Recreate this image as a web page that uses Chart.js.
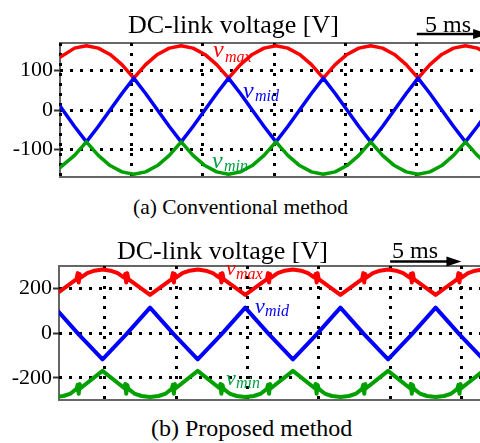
<!DOCTYPE html>
<html>
<head>
<meta charset="utf-8">
<script src="https://cdn.jsdelivr.net/npm/chart.js@4"></script>
<style>
html, body { margin: 0; padding: 0; background: #fff; overflow: hidden; }
body { width: 480px; height: 443px; position: relative; font-family: 'Liberation Serif', 'Times New Roman', serif; }
canvas { position: absolute; left: 0; }
.t { position: absolute; white-space: nowrap; line-height: 1; color: #000; }
.v { position: absolute; white-space: nowrap; line-height: 1; font-style: italic; }
</style>
</head>
<body>
<canvas id="chartA" width="490" height="192" style="top:0px"></canvas>
<canvas id="chartB" width="490" height="189" style="top:226px"></canvas>

<div class="t" style="left:128px;top:12px;font-size:26px">DC-link voltage [V]</div>
<div class="t" style="left:425px;top:12px;font-size:24px">5 ms</div>
<div class="v" style="left:213px;top:37px;font-size:24px;color:#f00">v</div>
<div class="v" style="left:225px;top:49px;font-size:16px;color:#f00">max</div>
<div class="v" style="left:243px;top:78px;font-size:24px;color:#00f">v</div>
<div class="v" style="left:255px;top:88px;font-size:16px;color:#00f">mid</div>
<div class="v" style="left:212px;top:148px;font-size:24px;color:#00a040">v</div>
<div class="v" style="left:224px;top:158px;font-size:16px;color:#00a040">min</div>
<div class="t" style="left:133px;top:197px;font-size:21.5px">(a) Conventional method</div>

<div class="t" style="left:117px;top:238px;font-size:26px">DC-link voltage [V]</div>
<div class="t" style="left:392px;top:238px;font-size:24px">5 ms</div>
<div class="v" style="left:226px;top:257px;font-size:22px;color:#f00">v</div>
<div class="v" style="left:236px;top:266px;font-size:16px;color:#f00">max</div>
<div class="v" style="left:255px;top:295px;font-size:22px;color:#00f">v</div>
<div class="v" style="left:265px;top:303px;font-size:16px;color:#00f">mid</div>
<div class="v" style="left:226px;top:367px;font-size:22px;color:#00a040">v</div>
<div class="v" style="left:236px;top:375px;font-size:16px;color:#00a040">min</div>
<div class="t" style="left:151px;top:416px;font-size:24px">(b) Proposed method</div>

<script>
// ---- (a) conventional: time in ms, voltages in V ----
const timeA = [0, 1.02, 1.85, 2.68, 3.51, 4.34, 5.17, 6.0, 6.83, 7.66, 8.49, 9.32, 10.15, 10.98, 11.81,
  12.64, 13.47, 14.3, 15.13, 15.96, 16.79, 17.62, 18.45, 19.28, 20.11, 20.94, 21.77, 22.6, 23.43,
  24.26, 25.09, 25.92, 26.75, 27.58, 28.41, 29.24, 30.07, 30.9];
const vMaxA = [134, 157,
  163, 157, 141, 115, 81, 115, 141, 157,
  163, 157, 141, 115, 81, 115, 141, 157,
  163, 157, 141, 115, 81, 115, 141, 157,
  163, 157, 141, 115, 81, 115, 141, 157,
  163, 157, 141, 115];
const vMidA = [10, -42,
  -81, -42, 0, 42, 81, 42, 0, -42,
  -81, -42, 0, 42, 81, 42, 0, -42,
  -81, -42, 0, 42, 81, 42, 0, -42,
  -81, -42, 0, 42, 81, 42, 0, -42,
  -81, -42, 0, 42];
const vMinA = [-146, -115,
  -81, -115, -141, -157, -163, -157, -141, -115,
  -81, -115, -141, -157, -163, -157, -141, -115,
  -81, -115, -141, -157, -163, -157, -141, -115,
  -81, -115, -141, -157, -163, -157, -141, -115,
  -81, -115, -141, -157];
const yTicksA = [-100, 0, 100];
const xGridA = [0, 5, 10, 15, 20, 25, 30];

// ---- (b) proposed: each trace has its own time points (spikes at the switch-over) ----
const tMaxB = [-0.01,
  1.51, 3.03, 3.11, 3.18, 3.25, 3.33, 3.78, 4.28, 4.85, 5.41, 5.91, 6.36, 6.44, 6.51, 6.58, 6.66,
  8.18, 9.7, 9.78, 9.85, 9.92, 10.0, 10.45, 10.95, 11.52, 12.08, 12.58, 13.03, 13.11, 13.18, 13.25, 13.33,
  14.85, 16.37, 16.45, 16.52, 16.59, 16.67, 17.12, 17.62, 18.19, 18.75, 19.25, 19.7, 19.78, 19.85, 19.92, 20.0,
  21.52, 23.04, 23.12, 23.19, 23.26, 23.34, 23.79, 24.29, 24.86, 25.42, 25.92, 26.37, 26.45, 26.52, 26.59, 26.67,
  28.19, 29.71, 29.79, 29.86, 29.93, 30.01, 30.46, 30.96, 31.53, 32.09];
const vMaxB = [243,
  172, 243, 270, 228, 266, 250, 270, 281, 286, 281, 270, 250, 266, 228, 270, 243,
  172, 243, 270, 228, 266, 250, 270, 281, 286, 281, 270, 250, 266, 228, 270, 243,
  172, 243, 270, 228, 266, 250, 270, 281, 286, 281, 270, 250, 266, 228, 270, 243,
  172, 243, 270, 228, 266, 250, 270, 281, 286, 281, 270, 250, 266, 228, 270, 243,
  172, 243, 270, 228, 266, 250, 270, 281, 286, 281];
const tMidB = [-0.16, 1.51, 3.18, 4.85, 6.51, 8.18, 9.85, 11.52, 13.18, 14.85, 16.52, 18.19,
  19.85, 21.52, 23.19, 24.86, 26.52, 28.19, 29.86, 31.53, 33.2];
const vMidB = [-5, 115, -5, -117, -5, 115, -5, -117, -5, 115, -5, -117,
  -5, 115, -5, -117, -5, 115, -5, -117, -5];
const tMinB = [0.41, 0.91,
  1.51, 2.11, 2.61, 3.03, 3.11, 3.18, 3.25, 3.33, 4.85, 6.36, 6.44, 6.51, 6.58, 6.66, 7.08, 7.58,
  8.18, 8.78, 9.28, 9.7, 9.78, 9.85, 9.92, 10.0, 11.52, 13.03, 13.11, 13.18, 13.25, 13.33, 13.75, 14.25,
  14.85, 15.45, 15.95, 16.37, 16.45, 16.52, 16.59, 16.67, 18.19, 19.7, 19.78, 19.85, 19.92, 20.0, 20.42, 20.92,
  21.52, 22.12, 22.62, 23.04, 23.12, 23.19, 23.26, 23.34, 24.86, 26.37, 26.45, 26.52, 26.59, 26.67, 27.09, 27.59,
  28.19, 28.79, 29.29, 29.71, 29.79, 29.86, 29.93, 30.01, 31.53, 33.09];
const vMinB = [-271, -282,
  -287, -282, -271, -250, -232, -272, -228, -246, -169, -246, -228, -272, -232, -250, -271, -282,
  -287, -282, -271, -250, -232, -272, -228, -246, -169, -246, -228, -272, -232, -250, -271, -282,
  -287, -282, -271, -250, -232, -272, -228, -246, -169, -246, -228, -272, -232, -250, -271, -282,
  -287, -282, -271, -250, -232, -272, -228, -246, -169, -246, -228, -272, -232, -250, -271, -282,
  -287, -282, -271, -250, -232, -272, -228, -246, -169, -246];
const yTicksB = [-200, 0, 200];
const xGridB = [5, 10, 15, 20, 25, 30];

const RED = '#ff0000', BLUE = '#0000ff', GREEN = '#00a000';
const SERIF = "'Liberation Serif', 'Times New Roman', serif";

Chart.defaults.font.family = SERIF;

function pts(times, vals) {
  return times.map((t, i) => ({x: t, y: vals[i]}));
}

function trace(times, vals, color, width) {
  return {
    data: pts(times, vals),
    borderColor: color,
    borderWidth: width,
    pointRadius: 0,
    fill: false,
    tension: 0,
    borderJoinStyle: 'round',
    borderCapStyle: 'round'
  };
}

// gray box round the plot area, drawn first so the dotted grid sits on it
const framePlugin = {
  id: 'frame',
  beforeDraw(chart) {
    const {ctx, chartArea: a} = chart;
    ctx.save();
    ctx.strokeStyle = '#666';
    ctx.lineWidth = 2;
    ctx.strokeRect(a.left, a.top, a.right - a.left, a.bottom - a.top);
    ctx.restore();
  }
};

// "5 ms" arrow spanning one grid division above the plot
const arrowPlugin = {
  id: 'arrow',
  afterDraw(chart, args, opts) {
    const ctx = chart.ctx;
    const x1 = chart.scales.x.getPixelForValue(opts.from);
    const x2 = chart.scales.x.getPixelForValue(opts.to);
    const y = chart.chartArea.top - opts.gap;
    ctx.save();
    ctx.strokeStyle = '#000';
    ctx.fillStyle = '#000';
    ctx.lineWidth = 2.5;
    ctx.beginPath();
    ctx.moveTo(x1, y);
    ctx.lineTo(x2 - 12, y);
    ctx.stroke();
    ctx.beginPath();
    ctx.moveTo(x2, y);
    ctx.lineTo(x2 - 15, y - 5);
    ctx.lineTo(x2 - 15, y + 5);
    ctx.closePath();
    ctx.fill();
    ctx.restore();
  }
};

function panelOptions(xMin, xMax, xGrid, yMin, yMax, yTicks, axisWidth, pad, arrowGap) {
  return {
    responsive: false,
    animation: false,
    devicePixelRatio: 1,
    events: [],
    layout: {padding: {top: pad.top, bottom: pad.bottom, left: 0, right: 0}},
    plugins: {
      legend: {display: false},
      tooltip: {enabled: false},
      title: {display: false},
      arrow: {from: 25, to: 30, gap: arrowGap}
    },
    scales: {
      x: {
        type: 'linear',
        min: xMin,
        max: xMax,
        afterBuildTicks: ax => { ax.ticks = xGrid.map(v => ({value: v})); },
        afterFit: ax => { ax.height = 0; },
        ticks: {display: false},
        grid: {color: '#000', lineWidth: 3, drawTicks: false},
        border: {display: false, dash: [3, 7]}
      },
      y: {
        type: 'linear',
        min: yMin,
        max: yMax,
        afterBuildTicks: ax => { ax.ticks = yTicks.map(v => ({value: v})); },
        afterFit: ax => { ax.width = axisWidth; },
        ticks: {color: '#000', font: {family: SERIF, size: 22}, padding: 1},
        grid: {color: '#000', lineWidth: 3, drawTicks: true, tickLength: 6, tickWidth: 2, tickColor: '#333'},
        border: {display: false, dash: [3, 7]}
      }
    }
  };
}

new Chart(document.getElementById('chartA'), {
  type: 'line',
  data: {
    datasets: [
      trace(timeA, vMinA, GREEN, 3.5),
      trace(timeA, vMidA, BLUE, 3.5),
      trace(timeA, vMaxA, RED, 3.5)
    ]
  },
  options: panelOptions(0, 30.13, xGridA, -170, 170, yTicksA, 60, {top: 43, bottom: 15}, 9),
  plugins: [framePlugin, arrowPlugin]
});

new Chart(document.getElementById('chartB'), {
  type: 'line',
  data: {
    datasets: [
      trace(tMinB, vMinB, GREEN, 4),
      trace(tMidB, vMidB, BLUE, 4),
      trace(tMaxB, vMaxB, RED, 4)
    ]
  },
  options: panelOptions(1.8, 32, xGridB, -300, 302, yTicksB, 59, {top: 40, bottom: 15}, 4.5),
  plugins: [framePlugin, arrowPlugin]
});
</script>
</body>
</html>
